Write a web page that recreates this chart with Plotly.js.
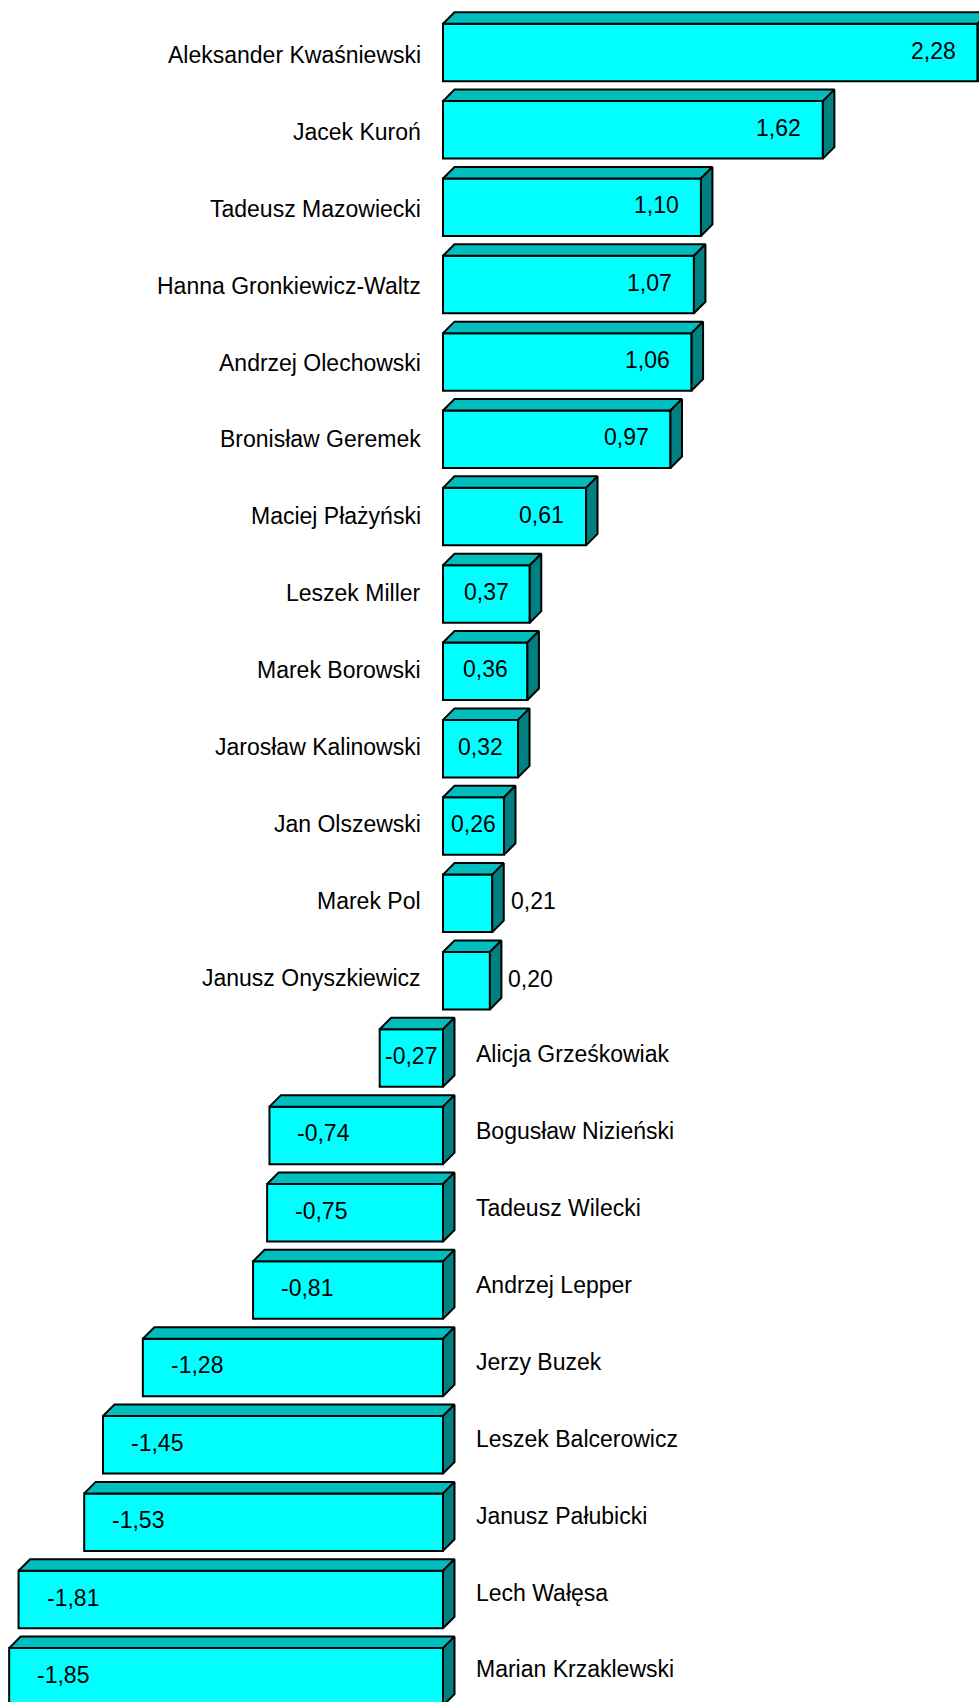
<!DOCTYPE html>
<html>
<head>
<meta charset="utf-8">
<script src="https://cdn.plot.ly/plotly-3.0.1.min.js"></script>
<style>
  html, body { margin: 0; padding: 0; background: #ffffff; }
  #chart { width: 979px; height: 1702px; }
</style>
</head>
<body>
<div id="chart"></div>
<script>
// ---- Data ----
const names = [
  "Aleksander Kwaśniewski", "Jacek Kuroń", "Tadeusz Mazowiecki",
  "Hanna Gronkiewicz-Waltz", "Andrzej Olechowski", "Bronisław Geremek",
  "Maciej Płażyński", "Leszek Miller", "Marek Borowski",
  "Jarosław Kalinowski", "Jan Olszewski", "Marek Pol",
  "Janusz Onyszkiewicz", "Alicja Grześkowiak", "Bogusław Nizieński",
  "Tadeusz Wilecki", "Andrzej Lepper", "Jerzy Buzek",
  "Leszek Balcerowicz", "Janusz Pałubicki", "Lech Wałęsa",
  "Marian Krzaklewski"
];
const values = [
  2.28, 1.62, 1.10, 1.07, 1.06, 0.97, 0.61, 0.37, 0.36, 0.32, 0.26,
  0.21, 0.20, -0.27, -0.74, -0.75, -0.81, -1.28, -1.45, -1.53, -1.81, -1.85
];

// ---- Geometry / style constants ----
const W = 979, H = 1702;
const PX_PER_UNIT = 234.5;     // horizontal pixels per value unit
const ZERO_PX = 443;           // pixel x of value 0
const ROW_PX = 77.35;          // pixel spacing between bar rows
const FIRST_CENTER_PX = 52.5;  // pixel y of first bar centre
const NAME_FIRST_PX = 55;      // pixel y of first category label
const NAME_ROW_PX = 76.875;    // pixel spacing of category labels
const BAR_PX = 57.5;           // front-face height in px
const DEPTH_PX = 11.5;         // 3D depth offset in px
const FONT = { family: "Liberation Sans, Arial, Helvetica, sans-serif", size: 23, color: "#000000" };
const FRONT = "#00FFFF", TOP = "#00BEBE", SIDE = "#008080", EDGE = "#000000";

const xRange = [-ZERO_PX / PX_PER_UNIT, (W - ZERO_PX) / PX_PER_UNIT];
const yRange = [(H - FIRST_CENTER_PX) / ROW_PX, -FIRST_CENTER_PX / ROW_PX];
const barW = BAR_PX / ROW_PX;
const dx = DEPTH_PX / PX_PER_UNIT;
const dy = DEPTH_PX / ROW_PX;
const pxToRow = p => (p - FIRST_CENTER_PX) / ROW_PX;

const idx = names.map((_, i) => i);

// Top and side faces as filled polygons
const topX = [], topY = [], sideX = [], sideY = [];
values.forEach((v, i) => {
  const lo = Math.min(0, v), hi = Math.max(0, v);
  const yt = i - barW / 2, yb = i + barW / 2;
  topX.push(lo, hi, hi + dx, lo + dx, lo, null);
  topY.push(yt, yt, yt - dy, yt - dy, yt, null);
  sideX.push(hi, hi + dx, hi + dx, hi, hi, null);
  sideY.push(yt, yt - dy, yb - dy, yb, yt, null);
});

const traces = [
  {
    type: "bar", orientation: "h", x: values, y: idx, width: barW,
    marker: { color: FRONT, line: { color: EDGE, width: 2 } },
    hoverinfo: "skip", showlegend: false
  },
  {
    type: "scatter", mode: "lines", x: topX, y: topY, fill: "toself",
    fillcolor: TOP, line: { color: EDGE, width: 2 }, hoverinfo: "skip", showlegend: false
  },
  {
    type: "scatter", mode: "lines", x: sideX, y: sideY, fill: "toself",
    fillcolor: SIDE, line: { color: EDGE, width: 2 }, hoverinfo: "skip", showlegend: false
  }
];

// Labels
const fmt = v => v.toFixed(2).replace(".", ",");
const charW = { "0":0.556,"1":0.556,"2":0.556,"3":0.556,"4":0.556,"5":0.556,"6":0.556,"7":0.556,"8":0.556,"9":0.556,",":0.278,"-":0.333 };
const textW = s => s.split("").reduce((a, c) => a + (charW[c] || 0.556), 0) * FONT.size;

const annotations = [];
values.forEach((v, i) => {
  // category labels
  const ny = pxToRow(NAME_FIRST_PX + i * NAME_ROW_PX);
  annotations.push({
    x: 0, y: ny, xref: "x", yref: "y", text: names[i], showarrow: false,
    xanchor: v >= 0 ? "right" : "left", yanchor: "middle",
    xshift: v >= 0 ? -20 : 31, font: FONT
  });
  // value labels
  const s = fmt(v), tw = textW(s), barPx = Math.abs(v) * PX_PER_UNIT;
  if (v >= 0 && barPx < 55) {
    annotations.push({ x: v, y: i, xref: "x", yref: "y", text: s, showarrow: false,
      xanchor: "left", yanchor: "middle", xshift: DEPTH_PX + 5, yshift: 2, font: FONT });
  } else {
    let cx;
    if (v >= 0) cx = Math.max(v / 2, v - (22 + tw / 2) / PX_PER_UNIT);
    else cx = Math.min(v / 2, v + (28 + tw / 2) / PX_PER_UNIT);
    annotations.push({ x: cx, y: i, xref: "x", yref: "y", text: s, showarrow: false,
      xanchor: "center", yanchor: "middle", yshift: 2, font: FONT });
  }
});

const layout = {
  width: W, height: H,
  margin: { l: 0, r: 0, t: 0, b: 0, pad: 0 },
  paper_bgcolor: "#ffffff", plot_bgcolor: "#ffffff",
  showlegend: false,
  bargap: 0,
  xaxis: { range: xRange, visible: false, fixedrange: true, zeroline: false, showgrid: false },
  yaxis: { range: yRange, visible: false, fixedrange: true, zeroline: false, showgrid: false },
  annotations: annotations,
  font: FONT
};

Plotly.newPlot("chart", traces, layout, { staticPlot: true, displayModeBar: false });
</script>
</body>
</html>
